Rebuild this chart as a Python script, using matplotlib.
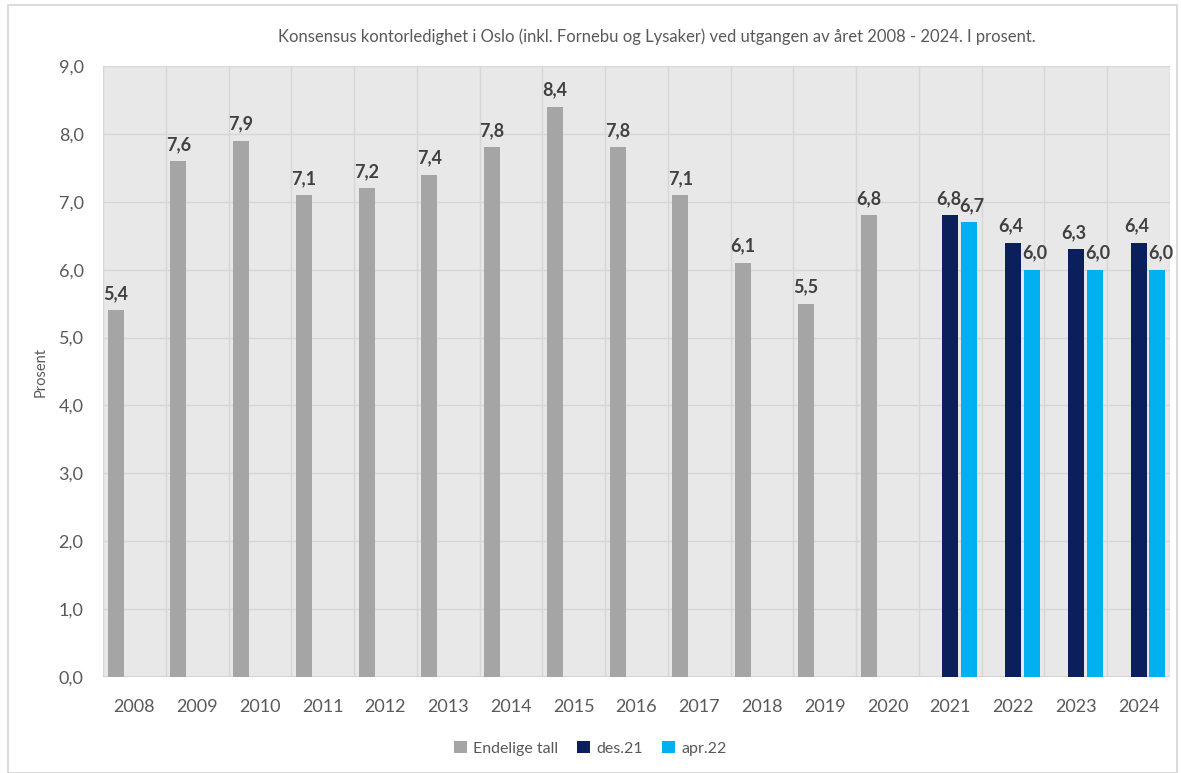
import matplotlib.pyplot as plt
import numpy as np
from matplotlib.patches import Rectangle

years = [str(y) for y in range(2008, 2025)]
endelige = [5.4, 7.6, 7.9, 7.1, 7.2, 7.4, 7.8, 8.4, 7.8, 7.1, 6.1, 5.5, 6.8,
            None, None, None, None]
des21 = [None] * 13 + [6.8, 6.4, 6.3, 6.4]
apr22 = [None] * 13 + [6.7, 6.0, 6.0, 6.0]

series = [("Endelige tall", endelige, "#a5a5a5"),
          ("des.21", des21, "#0b1f5c"),
          ("apr.22", apr22, "#00b0f0")]

plt.rcParams['font.family'] = ['Lato', 'DejaVu Sans']

fig = plt.figure(figsize=(11.81, 7.73), dpi=100)
ax = fig.add_axes([0.0872, 0.1242, 0.9035, 0.7904])
ax.set_facecolor("#e8e8e8")

# light frame round the whole chart
fig.patches.append(Rectangle((0.007, 0.0), 0.99, 0.993, transform=fig.transFigure,
                             fill=False, edgecolor="#d4d4d4", linewidth=1.2))

x = np.arange(len(years))
step = 0.30
width = 0.255
# small sideways nudge of the labels so neighbours do not collide
nudge = [0.0, -0.03, 0.05]
for i, (name, vals, col) in enumerate(series):
    xs = [x[j] + (i - 1) * step for j in range(len(years)) if vals[j] is not None]
    vs = [v for v in vals if v is not None]
    bars = ax.bar(xs, vs, width=width, color=col, label=name, zorder=3)
    for b, v in zip(bars, vs):
        ax.text(b.get_x() + b.get_width() / 2 + nudge[i], v + 0.12,
                f"{v:.1f}".replace(".", ","),
                ha="center", va="bottom", fontsize=13, fontweight="bold",
                color="#404040", zorder=4)

ax.set_xlim(-0.5, len(years) - 0.5)
ax.set_ylim(0, 9)
ax.set_yticks(np.arange(0, 10, 1))
ax.set_yticklabels([f"{v:.1f}".replace(".", ",") for v in np.arange(0, 10, 1)])
ax.set_xticks(x)
ax.set_xticklabels(years)
ax.set_xticks(np.arange(-0.5, len(years), 1), minor=True)
ax.grid(axis="y", which="major", color="#d6d6d6", linewidth=1, zorder=0)
ax.grid(axis="x", which="minor", color="#d6d6d6", linewidth=1, zorder=0)
ax.tick_params(axis="both", which="both", length=0, labelsize=13, labelcolor="#595959")
ax.tick_params(axis="x", pad=16)
ax.tick_params(axis="y", pad=14)
for s in ax.spines.values():
    s.set_visible(False)
ax.axhline(0, color="#cfcfcf", linewidth=1.2, zorder=2)

ax.set_ylabel("Prosent", fontsize=10.5, color="#595959", labelpad=8)
fig.text(0.556, 0.952, "Konsensus kontorledighet i Oslo (inkl. Fornebu og Lysaker) ved utgangen av året 2008 - 2024. I prosent.",
         ha="center", va="center", fontsize=12, color="#595959")

fig.legend(loc="center", bbox_to_anchor=(0.5, 0.032), ncol=3, frameon=False,
           fontsize=11.5, labelcolor="#595959", handlelength=0.8, handleheight=0.8,
           handletextpad=0.4, columnspacing=1.2)

fig.savefig("out.png", dpi=100)
